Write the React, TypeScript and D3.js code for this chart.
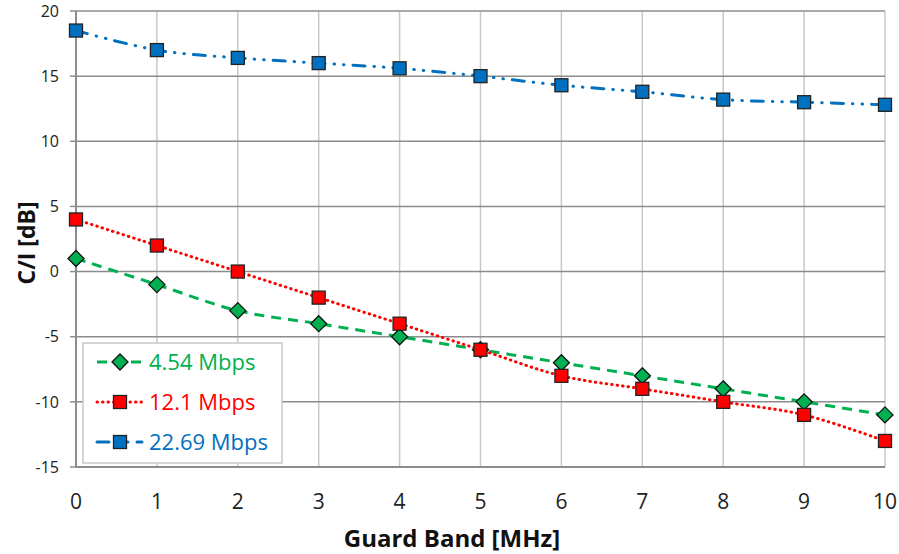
import React from "react";
import * as d3 from "d3";

const guardBand = [0, 1, 2, 3, 4, 5, 6, 7, 8, 9, 10];
const rate454 = [1, -1, -3, -4, -5, -6, -7, -8, -9, -10, -11];
const rate121 = [4, 2, 0, -2, -4, -6, -8, -9, -10, -11, -13];
const rate2269 = [18.5, 17, 16.4, 16, 15.6, 15, 14.3, 13.8, 13.2, 13, 12.8];
const yTicks = [-15, -10, -5, 0, 5, 10, 15, 20];

const series = [
  { name: "4.54 Mbps", values: rate454, color: "#00B050", dash: "10,7", cap: "butt", marker: "diamond" },
  { name: "12.1 Mbps", values: rate121, color: "#FF0000", dash: "0.5,5", cap: "round", marker: "square" },
  { name: "22.69 Mbps", values: rate2269, color: "#0070C0", dash: "12,9,0.5,9,0.5,9", cap: "round", marker: "square" },
];

const W = 899;
const H = 554;
const margin = { top: 11, right: 14, bottom: 87, left: 76 };

export default function App() {
  const x = d3.scaleLinear().domain([0, 10]).range([margin.left, W - margin.right]);
  const y = d3.scaleLinear().domain([-15, 20]).range([H - margin.bottom, margin.top]);
  const line = d3
    .line<number>()
    .x((_, i) => x(guardBand[i]))
    .y((d) => y(d))
    .curve(d3.curveCatmullRom.alpha(0.5));

  const font = "'Open Sans', 'Liberation Sans', sans-serif";

  const marker = (type: string, cx: number, cy: number, color: string, key: string) =>
    type === "diamond" ? (
      <path
        key={key}
        d={`M${cx},${cy - 8}L${cx + 8},${cy}L${cx},${cy + 8}L${cx - 8},${cy}Z`}
        fill={color}
        stroke="#111"
        strokeWidth={1.3}
      />
    ) : (
      <rect key={key} x={cx - 6.5} y={cy - 6.5} width={13} height={13} fill={color} stroke="#222" strokeWidth={1.3} />
    );

  return (
    <svg width={W} height={H} style={{ position: "absolute", left: 0, top: 0 }} fontFamily={font}>
      <rect width={W} height={H} fill="#fff" />
      {guardBand.map((g) => (
        <line key={"v" + g} x1={x(g)} x2={x(g)} y1={y(20)} y2={y(-15)} stroke="#c8c8c8" strokeWidth={1.5} />
      ))}
      {yTicks.map((t) => (
        <line key={"h" + t} x1={x(0)} x2={x(10)} y1={y(t)} y2={y(t)} stroke="#8c8c8c" strokeWidth={1.5} />
      ))}
      <line x1={x(0)} x2={x(0)} y1={y(20)} y2={y(-15)} stroke="#8c8c8c" strokeWidth={2} />
      <line x1={x(0)} x2={x(10)} y1={y(-15)} y2={y(-15)} stroke="#8c8c8c" strokeWidth={2} />
      {yTicks.map((t) => (
        <g key={"yt" + t}>
          <line x1={x(0) - 6} x2={x(0)} y1={y(t)} y2={y(t)} stroke="#8c8c8c" strokeWidth={1.5} />
          <text x={x(0) - 17} y={y(t)} dy="0.36em" textAnchor="end" fontSize={16} fill="#222">
            {t}
          </text>
        </g>
      ))}
      {guardBand.map((g) => (
        <text key={"xt" + g} x={x(g)} y={509} textAnchor="middle" fontSize={21} fill="#222">
          {g}
        </text>
      ))}
      <text x={452} y={547} textAnchor="middle" fontSize={24} fontWeight="bold" fill="#111">
        Guard Band [MHz]
      </text>
      <text
        transform={`translate(35,243) rotate(-90)`}
        textAnchor="middle"
        fontSize={23}
        fontWeight="bold"
        fill="#111"
      >
        C/I [dB]
      </text>
      {series.map((s) => (
        <g key={s.name}>
          <path
            d={line(s.values) || ""}
            fill="none"
            stroke={s.color}
            strokeWidth={3}
            strokeDasharray={s.dash}
            strokeLinecap={s.cap as any}
          />
          {s.values.map((v, i) => marker(s.marker, x(guardBand[i]), y(v), s.color, s.name + i))}
        </g>
      ))}
      <rect x={83} y={343} width={199} height={120} fill="#fff" stroke="#c8c8c8" strokeWidth={1.5} />
      {series.map((s, i) => {
        const ly = 362 + i * 40;
        return (
          <g key={"lg" + s.name}>
            <line
              x1={97}
              x2={142}
              y1={ly}
              y2={ly}
              stroke={s.color}
              strokeWidth={3}
              strokeDasharray={s.dash}
              strokeLinecap={s.cap as any}
            />
            {marker(s.marker, 120, ly, s.color, "lm" + i)}
            <text x={149} y={ly} dy="0.36em" fontSize={22} fill={s.color}>
              {s.name}
            </text>
          </g>
        );
      })}
    </svg>
  );
}
